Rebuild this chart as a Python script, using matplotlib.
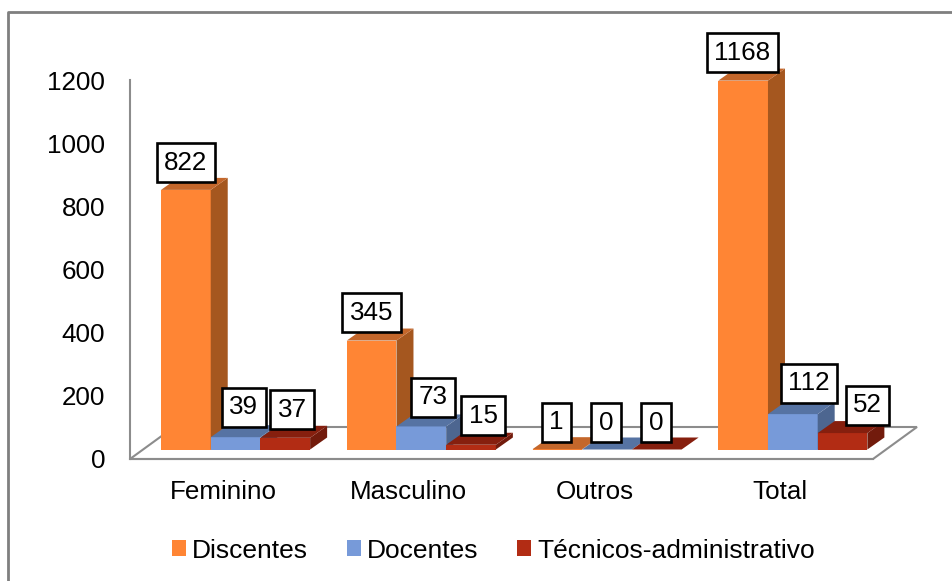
import matplotlib
matplotlib.use("Agg")
import matplotlib.pyplot as plt
from matplotlib.patches import Patch, Polygon
from matplotlib.lines import Line2D

categorias = ["Feminino", "Masculino", "Outros", "Total"]
discentes = [822, 345, 1, 1168]
docentes = [39, 73, 0, 112]
tecnicos = [37, 15, 0, 52]
nomes = ["Discentes", "Docentes", "Técnicos-administrativo"]
y_ticks = [0, 200, 400, 600, 800, 1000, 1200]

# frente, topo, lado
cores = [("#FF8534", "#C4672B", "#A5571F"),
         ("#779AD9", "#5673A3", "#4D6690"),
         ("#B22C14", "#861F0E", "#721B0C")]

# deslocamento das etiquetas em pixels, a partir do centro da frente do topo
offsets = [[(0, 27), (8, 30), (7, 28)],
           [(0, 28), (12, 29), (12, 29)],
           [(-1, 27), (-1, 27), (-1, 27)],
           [(-1, 28), (16, 31), (25, 28)]]

W, H = 953, 581
plt.rcParams["font.family"] = ["Liberation Sans", "DejaVu Sans"]
fig = plt.figure(figsize=(W / 100, H / 100), dpi=100)
fig.patch.set_facecolor("white")

# moldura
fig.add_artist(Line2D([8.5 / W, 8.5 / W, 1], [0, 1 - 12 / H, 1 - 12 / H],
                      color="#7F7F7F", lw=2, transform=fig.transFigure))

left, right, top, bottom = 130, 873, 80, 459
ax = fig.add_axes([left / W, 1 - bottom / H, (right - left) / W, (bottom - top) / H])
ax.set_xlim(-0.5, 3.5)
ax.set_ylim(0, 1200)
ax.patch.set_alpha(0)

px_x = 4 / (right - left)
px_y = 1200 / (bottom - top)

# chao
chao_dx, chao_dy = 44 * px_x, 32 * px_y
ax.add_patch(Polygon([(-0.5, 0), (3.5, 0), (3.5 + chao_dx, chao_dy), (-0.5 + chao_dx, chao_dy)],
                     closed=True, fc="white", ec="#8C8C8C", lw=1.5, clip_on=False, zorder=1))

largura = 49.7 * px_x
base = 9.5 * px_y
shift = 12.7 * px_x
prof_x, prof_y = 17 * px_x, 12 * px_y

series = [discentes, docentes, tecnicos]
z = 2
for i in range(len(categorias)):
    for s in range(3):
        v = series[s][i]
        x0 = i + shift + (s - 1.5) * largura
        x1 = x0 + largura
        frente, topo, lado = cores[s]
        ax.bar(x0, v, width=largura, bottom=base, align="edge", color=frente,
               lw=0, clip_on=False, zorder=z)
        ax.add_patch(Polygon([(x1, base), (x1 + prof_x, base + prof_y),
                              (x1 + prof_x, base + v + prof_y), (x1, base + v)],
                             closed=True, fc=lado, lw=0, clip_on=False, zorder=z))
        ax.add_patch(Polygon([(x0, base + v), (x1, base + v),
                              (x1 + prof_x, base + v + prof_y), (x0 + prof_x, base + v + prof_y)],
                             closed=True, fc=topo, lw=0, clip_on=False, zorder=z))
        z += 1

for i in range(len(categorias)):
    for s in range(3):
        v = series[s][i]
        xc = i + shift + (s - 1) * largura
        ax.annotate(str(v), (xc, base + v), xytext=offsets[i][s], textcoords="offset pixels",
                    ha="center", va="center", fontsize=18.7, color="black", zorder=50,
                    annotation_clip=False,
                    bbox=dict(boxstyle="square,pad=0.29", fc="white", ec="black", lw=1.9))

for lado_ax in ["top", "right"]:
    ax.spines[lado_ax].set_visible(False)
for lado_ax in ["left", "bottom"]:
    ax.spines[lado_ax].set_color("#8C8C8C")
    ax.spines[lado_ax].set_linewidth(1.5)
    ax.spines[lado_ax].set_zorder(1.5)

ax.set_xticks(range(len(categorias)))
ax.set_xticklabels(categorias)
ax.set_yticks(y_ticks)
ax.tick_params(axis="both", length=0, labelsize=18.7, colors="black")
ax.tick_params(axis="x", pad=15)
ax.tick_params(axis="y", pad=18)

handles = [Patch(fc=cores[s][0], lw=0, label=nomes[s]) for s in range(3)]
fig.legend(handles=handles, ncol=3, loc="center", bbox_to_anchor=(493.5 / W, 1 - 550.5 / H),
           frameon=False, fontsize=19, handlelength=0.54, handleheight=0.54,
           handletextpad=0.23, columnspacing=1.46, borderpad=0, borderaxespad=0)

fig.savefig("out.png", dpi=100, facecolor="white")
